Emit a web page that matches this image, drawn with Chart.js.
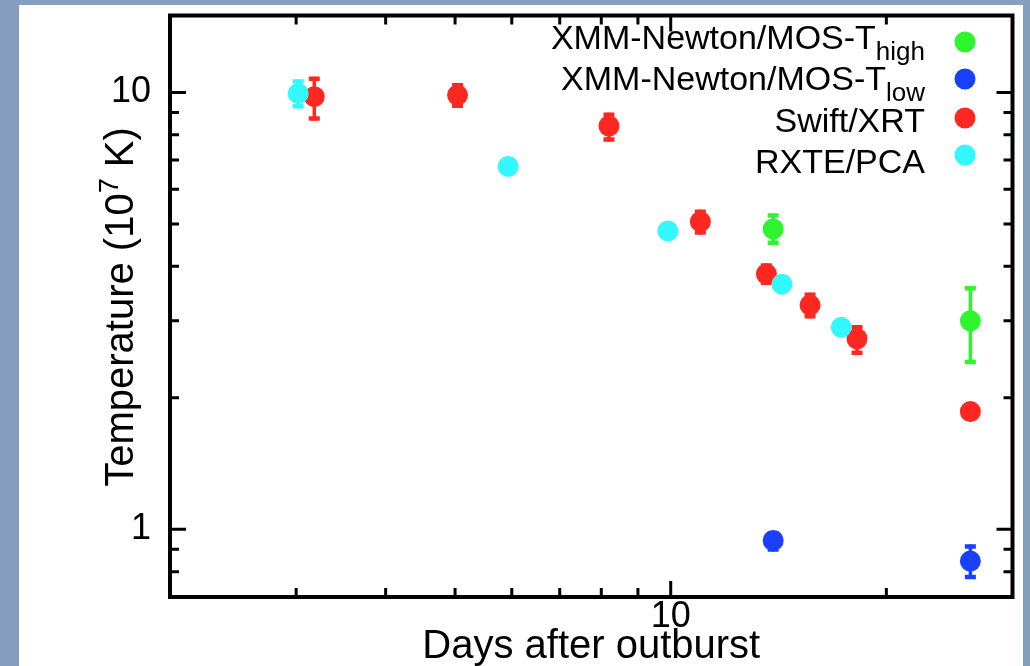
<!DOCTYPE html>
<html>
<head>
<meta charset="utf-8">
<title>Temperature evolution</title>
<script src="https://cdn.jsdelivr.net/npm/chart.js@4.4.1/dist/chart.umd.min.js"></script>
<style>
  html, body { margin: 0; padding: 0; }
  body { width: 1030px; height: 666px; background: #879fbf; overflow: hidden; position: relative; }
  #panel { position: absolute; left: 19px; top: 5px; width: 1004px; height: 661px; background: #fff; }
  canvas { display: block; }
</style>
</head>
<body>
<div id="panel"><canvas id="tempChart" width="1004" height="661"></canvas></div>
<script>
/* ── data: days after outburst, temperature in 1e7 K, lower / upper bounds ── */
const highDays = [13.9, 26.2];
const highTemp = [4.87, 3.00];
const highLo   = [4.48, 2.39];
const highHi   = [5.28, 3.60];

const lowDays = [13.9, 26.2];
const lowTemp = [0.943, 0.846];
const lowLo   = [0.89, 0.77];
const lowHi   = [0.99, 0.923];

const xrtDays = [3.18, 5.04, 8.20, 11.0, 13.6, 15.65, 18.2, 26.2];
const xrtTemp = [9.78, 9.86, 8.38, 5.06, 3.84, 3.26, 2.73, 1.86];
const xrtLo   = [8.62, 9.23, 7.72, 4.73, 3.63, 3.04, 2.51, null];
const xrtHi   = [10.86, 10.5, 8.99, 5.39, 4.06, 3.48, 2.93, null];

const pcaDays = [3.02, 5.93, 9.91, 14.3, 17.3];
const pcaTemp = [9.95, 6.77, 4.82, 3.64, 2.90];
const pcaLo   = [9.2, null, null, null, null];
const pcaHi   = [10.7, null, null, null, null];

const xTicks = [3, 4, 5, 6, 7, 8, 9, 10, 20];
const xMajor = [10];
const yTicks = [0.8, 0.9, 1, 2, 3, 4, 5, 6, 7, 8, 9, 10];
const yMajor = [1, 10];

const FONT = "'Liberation Sans', Arial, Helvetica, sans-serif";

const series = [
  { name: 'XMM-Newton/MOS-T', sub: 'high', color: '#2ef52e', days: highDays, temp: highTemp, lo: highLo, hi: highHi, order: 1 },
  { name: 'XMM-Newton/MOS-T', sub: 'low',  color: '#1a40ff', days: lowDays,  temp: lowTemp,  lo: lowLo,  hi: lowHi,  order: 2 },
  { name: 'Swift/XRT',        sub: '',     color: '#ff2820', days: xrtDays,  temp: xrtTemp,  lo: xrtLo,  hi: xrtHi,  order: 3 },
  { name: 'RXTE/PCA',         sub: '',     color: '#33f8ff', days: pcaDays,  temp: pcaTemp,  lo: pcaLo,  hi: pcaHi,  order: 0 }
];

/* ── frame + inward ticks on all four sides ── */
const axisMarks = {
  id: 'axisMarks',
  beforeDatasetsDraw(chart) {
    const { ctx, chartArea: a, scales: { x, y } } = chart;
    ctx.save();
    ctx.strokeStyle = '#000';
    ctx.lineWidth = 3;
    ctx.beginPath();
    x.ticks.forEach(t => {
      const px = x.getPixelForValue(t.value);
      const len = xMajor.includes(t.value) ? 16 : 9;
      ctx.moveTo(px, a.bottom); ctx.lineTo(px, a.bottom - len);
      ctx.moveTo(px, a.top);    ctx.lineTo(px, a.top + len);
    });
    y.ticks.forEach(t => {
      const py = y.getPixelForValue(t.value);
      const len = yMajor.includes(t.value) ? 16 : 9;
      ctx.moveTo(a.left, py);  ctx.lineTo(a.left + len, py);
      ctx.moveTo(a.right, py); ctx.lineTo(a.right - len, py);
    });
    ctx.stroke();
    ctx.lineWidth = 4;
    ctx.strokeRect(a.left, a.top, a.right - a.left, a.bottom - a.top);
    ctx.restore();
  }
};

/* ── vertical error bars with flat caps ── */
const errorBars = {
  id: 'errorBars',
  beforeDatasetsDraw(chart) {
    const { ctx, scales: { x, y } } = chart;
    ctx.save();
    series.forEach(s => {
      ctx.strokeStyle = s.color;
      s.days.forEach((d, i) => {
        if (s.lo[i] == null) return;
        const px = x.getPixelForValue(d);
        const top = y.getPixelForValue(s.hi[i]);
        const bot = y.getPixelForValue(s.lo[i]);
        ctx.lineWidth = 3.5;
        ctx.beginPath();
        ctx.moveTo(px, top); ctx.lineTo(px, bot);
        ctx.stroke();
        ctx.lineWidth = 4.5;
        ctx.beginPath();
        ctx.moveTo(px - 5.5, top + 2); ctx.lineTo(px + 5.5, top + 2);
        ctx.moveTo(px - 5.5, bot - 2); ctx.lineTo(px + 5.5, bot - 2);
        ctx.stroke();
      });
    });
    ctx.restore();
  }
};

/* ── legend with subscripts, y title with superscript ── */
const textLayer = {
  id: 'textLayer',
  afterDraw(chart) {
    const ctx = chart.ctx;
    ctx.save();
    ctx.fillStyle = '#000';
    ctx.textBaseline = 'alphabetic';

    const rightEdge = 906;
    const baselines = [44, 85, 127, 168];
    const dotY = [37, 74, 113, 150];
    series.forEach((s, i) => {
      ctx.font = `26px ${FONT}`;
      const subW = s.sub ? ctx.measureText(s.sub).width : 0;
      if (s.sub) {
        ctx.textAlign = 'left';
        ctx.fillText(s.sub, rightEdge - subW, baselines[i] + 11);
      }
      ctx.font = `34px ${FONT}`;
      ctx.textAlign = 'right';
      ctx.fillText(s.name, rightEdge - subW, baselines[i]);
      ctx.fillStyle = s.color;
      ctx.beginPath();
      ctx.arc(946, dotY[i], 10.5, 0, Math.PI * 2);
      ctx.fill();
      ctx.fillStyle = '#000';
    });

    // rotated axis title: Temperature (10^7 K)
    const big = `40px ${FONT}`, small = `27px ${FONT}`;
    const p1 = 'Temperature (10', p2 = '7', p3 = ' K)';
    ctx.font = big;
    const w1 = ctx.measureText(p1).width, w3 = ctx.measureText(p3).width;
    ctx.font = small;
    const w2 = ctx.measureText(p2).width;
    const total = w1 + w2 + w3;
    ctx.translate(114, 302);
    ctx.rotate(-Math.PI / 2);
    ctx.textAlign = 'left';
    let cx = -total / 2;
    ctx.font = big;  ctx.fillText(p1, cx, 0); cx += w1;
    ctx.font = small; ctx.fillText(p2, cx, -15); cx += w2;
    ctx.font = big;  ctx.fillText(p3, cx, 0);
    ctx.restore();
  }
};

new Chart(document.getElementById('tempChart'), {
  type: 'scatter',
  data: {
    datasets: series.map(s => ({
      label: s.name + s.sub,
      data: s.days.map((d, i) => ({ x: d, y: s.temp[i] })),
      backgroundColor: s.color,
      borderWidth: 0,
      pointRadius: 10.5,
      pointHoverRadius: 10.5,
      order: s.order
    }))
  },
  options: {
    responsive: false,
    animation: false,
    events: [],
    layout: { padding: { top: 7, right: 10, left: 0, bottom: 0 } },
    plugins: { legend: { display: false }, tooltip: { enabled: false } },
    scales: {
      x: {
        type: 'logarithmic',
        min: 2,
        max: 30,
        grid: { display: false, drawTicks: false },
        border: { display: false },
        afterBuildTicks: s => { s.ticks = xTicks.map(v => ({ value: v })); },
        afterFit: s => {
          s.height = 69;
          s.paddingLeft = 0;
          s.paddingRight = 0;
        },
        ticks: {
          autoSkip: false,
          maxRotation: 0,
          padding: -2,
          color: '#000',
          font: { family: FONT, size: 36 },
          callback: v => (xMajor.includes(v) ? String(v) : '')
        },
        title: {
          display: true,
          text: 'Days after outburst',
          color: '#000',
          font: { family: FONT, size: 40 },
          padding: { top: 0, bottom: -5 }
        }
      },
      y: {
        type: 'logarithmic',
        min: 0.7,
        max: 15,
        grid: { display: false, drawTicks: false },
        border: { display: false },
        afterBuildTicks: s => { s.ticks = yTicks.map(v => ({ value: v })); },
        afterFit: s => {
          s.width = 151;
          s.paddingTop = 0;
          s.paddingBottom = 0;
        },
        ticks: {
          autoSkip: false,
          padding: 19,
          color: '#000',
          font: { family: FONT, size: 36 },
          callback: v => (yMajor.includes(v) ? String(v) : '')
        }
      }
    }
  },
  plugins: [axisMarks, errorBars, textLayer]
});
</script>
</body>
</html>
